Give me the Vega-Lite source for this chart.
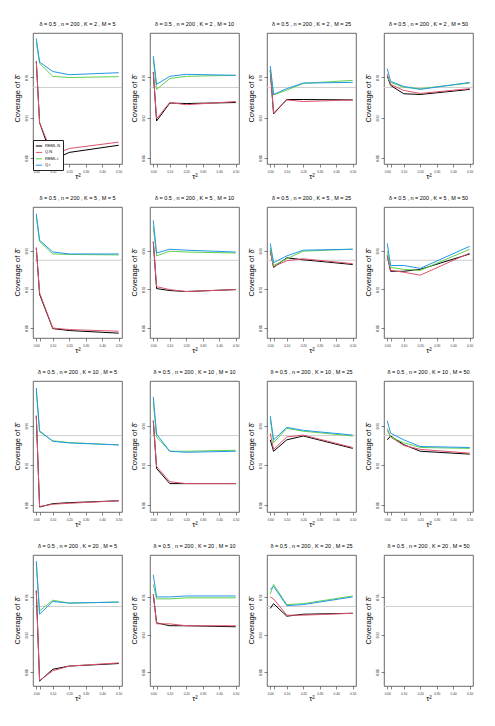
{
  "$schema": "https://vega.github.io/schema/vega-lite/v6.json",
  "autosize": {"type": "pad"},
  "padding": {"left": 12, "top": 21, "right": 0, "bottom": 0},
  "background": "white",
  "spacing": 15,
  "config": {
    "font": "Liberation Sans",
    "view": {"stroke": "#444444", "strokeWidth": 0.8},
    "axis": {"grid": false, "domain": false, "tickSize": 3, "tickColor": "#333333", "tickWidth": 0.6, "labelFontSize": 3.2, "labelColor": "#333333", "titleFontSize": 7.5, "titleFontWeight": "normal", "titleColor": "black"},
    "header": {"labelFontSize": 5.5, "labelColor": "black", "labelPadding": 6},
    "legend": {"symbolType": "stroke", "symbolSize": 40, "symbolStrokeWidth": 1, "labelFontSize": 4, "rowPadding": 0.4, "padding": 2, "strokeColor": "#222222", "fillColor": "white", "labelOffset": 2}
  },
  "datasets": {
    "cov": [
      {"K":2,"M":5,"method":"ref","tau2":0,"cov":0.95},
      {"K":2,"M":10,"method":"ref","tau2":0,"cov":0.95},
      {"K":2,"M":25,"method":"ref","tau2":0,"cov":0.95},
      {"K":2,"M":50,"method":"ref","tau2":0,"cov":0.95},
      {"K":5,"M":5,"method":"ref","tau2":0,"cov":0.95},
      {"K":5,"M":10,"method":"ref","tau2":0,"cov":0.95},
      {"K":5,"M":25,"method":"ref","tau2":0,"cov":0.95},
      {"K":5,"M":50,"method":"ref","tau2":0,"cov":0.95},
      {"K":10,"M":5,"method":"ref","tau2":0,"cov":0.95},
      {"K":10,"M":10,"method":"ref","tau2":0,"cov":0.95},
      {"K":10,"M":25,"method":"ref","tau2":0,"cov":0.95},
      {"K":10,"M":50,"method":"ref","tau2":0,"cov":0.95},
      {"K":20,"M":5,"method":"ref","tau2":0,"cov":0.95},
      {"K":20,"M":10,"method":"ref","tau2":0,"cov":0.95},
      {"K":20,"M":25,"method":"ref","tau2":0,"cov":0.95},
      {"K":20,"M":50,"method":"ref","tau2":0,"cov":0.95},

      {"K":2,"M":5,"method":"REML.N","tau2":0,"cov":0.976},
      {"K":2,"M":5,"method":"REML.N","tau2":0.02,"cov":0.915},
      {"K":2,"M":5,"method":"REML.N","tau2":0.1,"cov":0.878},
      {"K":2,"M":5,"method":"REML.N","tau2":0.2,"cov":0.8855},
      {"K":2,"M":5,"method":"REML.N","tau2":0.5,"cov":0.8926},
      {"K":2,"M":5,"method":"Q.N","tau2":0,"cov":0.9758},
      {"K":2,"M":5,"method":"Q.N","tau2":0.02,"cov":0.915},
      {"K":2,"M":5,"method":"Q.N","tau2":0.1,"cov":0.883},
      {"K":2,"M":5,"method":"Q.N","tau2":0.2,"cov":0.8894},
      {"K":2,"M":5,"method":"Q.N","tau2":0.5,"cov":0.8957},
      {"K":2,"M":5,"method":"REML.t","tau2":0,"cov":0.995},
      {"K":2,"M":5,"method":"REML.t","tau2":0.02,"cov":0.9738},
      {"K":2,"M":5,"method":"REML.t","tau2":0.1,"cov":0.961},
      {"K":2,"M":5,"method":"REML.t","tau2":0.2,"cov":0.9598},
      {"K":2,"M":5,"method":"REML.t","tau2":0.5,"cov":0.9607},
      {"K":2,"M":5,"method":"Q.t","tau2":0,"cov":0.9986},
      {"K":2,"M":5,"method":"Q.t","tau2":0.02,"cov":0.9752},
      {"K":2,"M":5,"method":"Q.t","tau2":0.1,"cov":0.9658},
      {"K":2,"M":5,"method":"Q.t","tau2":0.2,"cov":0.9626},
      {"K":2,"M":5,"method":"Q.t","tau2":0.5,"cov":0.9646},

      {"K":2,"M":10,"method":"REML.N","tau2":0,"cov":0.965},
      {"K":2,"M":10,"method":"REML.N","tau2":0.02,"cov":0.9167},
      {"K":2,"M":10,"method":"REML.N","tau2":0.1,"cov":0.9345},
      {"K":2,"M":10,"method":"REML.N","tau2":0.2,"cov":0.934},
      {"K":2,"M":10,"method":"REML.N","tau2":0.5,"cov":0.935},
      {"K":2,"M":10,"method":"Q.N","tau2":0,"cov":0.9649},
      {"K":2,"M":10,"method":"Q.N","tau2":0.02,"cov":0.919},
      {"K":2,"M":10,"method":"Q.N","tau2":0.1,"cov":0.935},
      {"K":2,"M":10,"method":"Q.N","tau2":0.2,"cov":0.9328},
      {"K":2,"M":10,"method":"Q.N","tau2":0.5,"cov":0.936},
      {"K":2,"M":10,"method":"REML.t","tau2":0,"cov":0.9777},
      {"K":2,"M":10,"method":"REML.t","tau2":0.02,"cov":0.948},
      {"K":2,"M":10,"method":"REML.t","tau2":0.1,"cov":0.9588},
      {"K":2,"M":10,"method":"REML.t","tau2":0.2,"cov":0.961},
      {"K":2,"M":10,"method":"REML.t","tau2":0.5,"cov":0.962},
      {"K":2,"M":10,"method":"Q.t","tau2":0,"cov":0.981},
      {"K":2,"M":10,"method":"Q.t","tau2":0.02,"cov":0.953},
      {"K":2,"M":10,"method":"Q.t","tau2":0.1,"cov":0.961},
      {"K":2,"M":10,"method":"Q.t","tau2":0.2,"cov":0.963},
      {"K":2,"M":10,"method":"Q.t","tau2":0.5,"cov":0.962},

      {"K":2,"M":25,"method":"REML.N","tau2":0,"cov":0.967},
      {"K":2,"M":25,"method":"REML.N","tau2":0.02,"cov":0.9237},
      {"K":2,"M":25,"method":"REML.N","tau2":0.1,"cov":0.938},
      {"K":2,"M":25,"method":"REML.N","tau2":0.2,"cov":0.938},
      {"K":2,"M":25,"method":"REML.N","tau2":0.5,"cov":0.9376},
      {"K":2,"M":25,"method":"Q.N","tau2":0,"cov":0.9665},
      {"K":2,"M":25,"method":"Q.N","tau2":0.02,"cov":0.9247},
      {"K":2,"M":25,"method":"Q.N","tau2":0.1,"cov":0.9376},
      {"K":2,"M":25,"method":"Q.N","tau2":0.2,"cov":0.936},
      {"K":2,"M":25,"method":"Q.N","tau2":0.5,"cov":0.9376},
      {"K":2,"M":25,"method":"REML.t","tau2":0,"cov":0.968},
      {"K":2,"M":25,"method":"REML.t","tau2":0.02,"cov":0.9425},
      {"K":2,"M":25,"method":"REML.t","tau2":0.1,"cov":0.9473},
      {"K":2,"M":25,"method":"REML.t","tau2":0.2,"cov":0.954},
      {"K":2,"M":25,"method":"REML.t","tau2":0.5,"cov":0.957},
      {"K":2,"M":25,"method":"Q.t","tau2":0,"cov":0.9713},
      {"K":2,"M":25,"method":"Q.t","tau2":0.02,"cov":0.943},
      {"K":2,"M":25,"method":"Q.t","tau2":0.1,"cov":0.9488},
      {"K":2,"M":25,"method":"Q.t","tau2":0.2,"cov":0.9543},
      {"K":2,"M":25,"method":"Q.t","tau2":0.5,"cov":0.955},

      {"K":2,"M":50,"method":"REML.N","tau2":0,"cov":0.961},
      {"K":2,"M":50,"method":"REML.N","tau2":0.02,"cov":0.952},
      {"K":2,"M":50,"method":"REML.N","tau2":0.1,"cov":0.9437},
      {"K":2,"M":50,"method":"REML.N","tau2":0.2,"cov":0.943},
      {"K":2,"M":50,"method":"REML.N","tau2":0.5,"cov":0.948},
      {"K":2,"M":50,"method":"Q.N","tau2":0,"cov":0.9632},
      {"K":2,"M":50,"method":"Q.N","tau2":0.02,"cov":0.953},
      {"K":2,"M":50,"method":"Q.N","tau2":0.1,"cov":0.947},
      {"K":2,"M":50,"method":"Q.N","tau2":0.2,"cov":0.944},
      {"K":2,"M":50,"method":"Q.N","tau2":0.5,"cov":0.9488},
      {"K":2,"M":50,"method":"REML.t","tau2":0,"cov":0.96},
      {"K":2,"M":50,"method":"REML.t","tau2":0.02,"cov":0.955},
      {"K":2,"M":50,"method":"REML.t","tau2":0.1,"cov":0.95},
      {"K":2,"M":50,"method":"REML.t","tau2":0.2,"cov":0.9488},
      {"K":2,"M":50,"method":"REML.t","tau2":0.5,"cov":0.9543},
      {"K":2,"M":50,"method":"Q.t","tau2":0,"cov":0.9687},
      {"K":2,"M":50,"method":"Q.t","tau2":0.02,"cov":0.956},
      {"K":2,"M":50,"method":"Q.t","tau2":0.1,"cov":0.951},
      {"K":2,"M":50,"method":"Q.t","tau2":0.2,"cov":0.948},
      {"K":2,"M":50,"method":"Q.t","tau2":0.5,"cov":0.955},

      {"K":5,"M":5,"method":"REML.N","tau2":0,"cov":0.963},
      {"K":5,"M":5,"method":"REML.N","tau2":0.02,"cov":0.9148},
      {"K":5,"M":5,"method":"REML.N","tau2":0.1,"cov":0.8794},
      {"K":5,"M":5,"method":"REML.N","tau2":0.2,"cov":0.8774},
      {"K":5,"M":5,"method":"REML.N","tau2":0.5,"cov":0.8747},
      {"K":5,"M":5,"method":"Q.N","tau2":0,"cov":0.9628},
      {"K":5,"M":5,"method":"Q.N","tau2":0.02,"cov":0.9164},
      {"K":5,"M":5,"method":"Q.N","tau2":0.1,"cov":0.88},
      {"K":5,"M":5,"method":"Q.N","tau2":0.2,"cov":0.8784},
      {"K":5,"M":5,"method":"Q.N","tau2":0.5,"cov":0.8767},
      {"K":5,"M":5,"method":"REML.t","tau2":0,"cov":0.995},
      {"K":5,"M":5,"method":"REML.t","tau2":0.02,"cov":0.9694},
      {"K":5,"M":5,"method":"REML.t","tau2":0.1,"cov":0.9565},
      {"K":5,"M":5,"method":"REML.t","tau2":0.2,"cov":0.956},
      {"K":5,"M":5,"method":"REML.t","tau2":0.5,"cov":0.9555},
      {"K":5,"M":5,"method":"Q.t","tau2":0,"cov":0.998},
      {"K":5,"M":5,"method":"Q.t","tau2":0.02,"cov":0.9707},
      {"K":5,"M":5,"method":"Q.t","tau2":0.1,"cov":0.9585},
      {"K":5,"M":5,"method":"Q.t","tau2":0.2,"cov":0.9565},
      {"K":5,"M":5,"method":"Q.t","tau2":0.5,"cov":0.9565},

      {"K":5,"M":10,"method":"REML.N","tau2":0,"cov":0.969},
      {"K":5,"M":10,"method":"REML.N","tau2":0.02,"cov":0.9207},
      {"K":5,"M":10,"method":"REML.N","tau2":0.1,"cov":0.9187},
      {"K":5,"M":10,"method":"REML.N","tau2":0.2,"cov":0.9177},
      {"K":5,"M":10,"method":"REML.N","tau2":0.5,"cov":0.9197},
      {"K":5,"M":10,"method":"Q.N","tau2":0,"cov":0.9694},
      {"K":5,"M":10,"method":"Q.N","tau2":0.02,"cov":0.9227},
      {"K":5,"M":10,"method":"Q.N","tau2":0.1,"cov":0.9197},
      {"K":5,"M":10,"method":"Q.N","tau2":0.2,"cov":0.9177},
      {"K":5,"M":10,"method":"Q.N","tau2":0.5,"cov":0.9197},
      {"K":5,"M":10,"method":"REML.t","tau2":0,"cov":0.985},
      {"K":5,"M":10,"method":"REML.t","tau2":0.02,"cov":0.9545},
      {"K":5,"M":10,"method":"REML.t","tau2":0.1,"cov":0.9594},
      {"K":5,"M":10,"method":"REML.t","tau2":0.2,"cov":0.9585},
      {"K":5,"M":10,"method":"REML.t","tau2":0.5,"cov":0.9575},
      {"K":5,"M":10,"method":"Q.t","tau2":0,"cov":0.9912},
      {"K":5,"M":10,"method":"Q.t","tau2":0.02,"cov":0.9575},
      {"K":5,"M":10,"method":"Q.t","tau2":0.1,"cov":0.9614},
      {"K":5,"M":10,"method":"Q.t","tau2":0.2,"cov":0.9604},
      {"K":5,"M":10,"method":"Q.t","tau2":0.5,"cov":0.9585},

      {"K":5,"M":25,"method":"REML.N","tau2":0,"cov":0.96},
      {"K":5,"M":25,"method":"REML.N","tau2":0.02,"cov":0.9426},
      {"K":5,"M":25,"method":"REML.N","tau2":0.1,"cov":0.9525},
      {"K":5,"M":25,"method":"REML.N","tau2":0.2,"cov":0.9505},
      {"K":5,"M":25,"method":"REML.N","tau2":0.5,"cov":0.9456},
      {"K":5,"M":25,"method":"Q.N","tau2":0,"cov":0.9594},
      {"K":5,"M":25,"method":"Q.N","tau2":0.02,"cov":0.9436},
      {"K":5,"M":25,"method":"Q.N","tau2":0.1,"cov":0.9495},
      {"K":5,"M":25,"method":"Q.N","tau2":0.2,"cov":0.9515},
      {"K":5,"M":25,"method":"Q.N","tau2":0.5,"cov":0.9465},
      {"K":5,"M":25,"method":"REML.t","tau2":0,"cov":0.963},
      {"K":5,"M":25,"method":"REML.t","tau2":0.02,"cov":0.9446},
      {"K":5,"M":25,"method":"REML.t","tau2":0.1,"cov":0.9515},
      {"K":5,"M":25,"method":"REML.t","tau2":0.2,"cov":0.9594},
      {"K":5,"M":25,"method":"REML.t","tau2":0.5,"cov":0.9614},
      {"K":5,"M":25,"method":"Q.t","tau2":0,"cov":0.9674},
      {"K":5,"M":25,"method":"Q.t","tau2":0.02,"cov":0.9475},
      {"K":5,"M":25,"method":"Q.t","tau2":0.1,"cov":0.9545},
      {"K":5,"M":25,"method":"Q.t","tau2":0.2,"cov":0.9604},
      {"K":5,"M":25,"method":"Q.t","tau2":0.5,"cov":0.9614},

      {"K":5,"M":50,"method":"REML.N","tau2":0,"cov":0.955},
      {"K":5,"M":50,"method":"REML.N","tau2":0.02,"cov":0.9386},
      {"K":5,"M":50,"method":"REML.N","tau2":0.1,"cov":0.9386},
      {"K":5,"M":50,"method":"REML.N","tau2":0.2,"cov":0.9406},
      {"K":5,"M":50,"method":"REML.N","tau2":0.5,"cov":0.9565},
      {"K":5,"M":50,"method":"Q.N","tau2":0,"cov":0.9545},
      {"K":5,"M":50,"method":"Q.N","tau2":0.02,"cov":0.9396},
      {"K":5,"M":50,"method":"Q.N","tau2":0.1,"cov":0.9376},
      {"K":5,"M":50,"method":"Q.N","tau2":0.2,"cov":0.9346},
      {"K":5,"M":50,"method":"Q.N","tau2":0.5,"cov":0.9575},
      {"K":5,"M":50,"method":"REML.t","tau2":0,"cov":0.9594},
      {"K":5,"M":50,"method":"REML.t","tau2":0.02,"cov":0.9426},
      {"K":5,"M":50,"method":"REML.t","tau2":0.1,"cov":0.9406},
      {"K":5,"M":50,"method":"REML.t","tau2":0.2,"cov":0.9396},
      {"K":5,"M":50,"method":"REML.t","tau2":0.5,"cov":0.9614},
      {"K":5,"M":50,"method":"Q.t","tau2":0,"cov":0.9674},
      {"K":5,"M":50,"method":"Q.t","tau2":0.02,"cov":0.9446},
      {"K":5,"M":50,"method":"Q.t","tau2":0.1,"cov":0.9446},
      {"K":5,"M":50,"method":"Q.t","tau2":0.2,"cov":0.9416},
      {"K":5,"M":50,"method":"Q.t","tau2":0.5,"cov":0.9644},

      {"K":10,"M":5,"method":"REML.N","tau2":0,"cov":0.97},
      {"K":10,"M":5,"method":"REML.N","tau2":0.02,"cov":0.878},
      {"K":10,"M":5,"method":"REML.N","tau2":0.1,"cov":0.8814},
      {"K":10,"M":5,"method":"REML.N","tau2":0.2,"cov":0.8824},
      {"K":10,"M":5,"method":"REML.N","tau2":0.5,"cov":0.8843},
      {"K":10,"M":5,"method":"Q.N","tau2":0,"cov":0.9698},
      {"K":10,"M":5,"method":"Q.N","tau2":0.02,"cov":0.8786},
      {"K":10,"M":5,"method":"Q.N","tau2":0.1,"cov":0.8808},
      {"K":10,"M":5,"method":"Q.N","tau2":0.2,"cov":0.8818},
      {"K":10,"M":5,"method":"Q.N","tau2":0.5,"cov":0.8843},
      {"K":10,"M":5,"method":"REML.t","tau2":0,"cov":0.995},
      {"K":10,"M":5,"method":"REML.t","tau2":0.02,"cov":0.9538},
      {"K":10,"M":5,"method":"REML.t","tau2":0.1,"cov":0.9448},
      {"K":10,"M":5,"method":"REML.t","tau2":0.2,"cov":0.9429},
      {"K":10,"M":5,"method":"REML.t","tau2":0.5,"cov":0.9406},
      {"K":10,"M":5,"method":"Q.t","tau2":0,"cov":0.998},
      {"K":10,"M":5,"method":"Q.t","tau2":0.02,"cov":0.9547},
      {"K":10,"M":5,"method":"Q.t","tau2":0.1,"cov":0.9442},
      {"K":10,"M":5,"method":"Q.t","tau2":0.2,"cov":0.9426},
      {"K":10,"M":5,"method":"Q.t","tau2":0.5,"cov":0.9406},

      {"K":10,"M":10,"method":"REML.N","tau2":0,"cov":0.965},
      {"K":10,"M":10,"method":"REML.N","tau2":0.02,"cov":0.9169},
      {"K":10,"M":10,"method":"REML.N","tau2":0.1,"cov":0.9016},
      {"K":10,"M":10,"method":"REML.N","tau2":0.2,"cov":0.9016},
      {"K":10,"M":10,"method":"REML.N","tau2":0.5,"cov":0.9016},
      {"K":10,"M":10,"method":"Q.N","tau2":0,"cov":0.965},
      {"K":10,"M":10,"method":"Q.N","tau2":0.02,"cov":0.9188},
      {"K":10,"M":10,"method":"Q.N","tau2":0.1,"cov":0.9035},
      {"K":10,"M":10,"method":"Q.N","tau2":0.2,"cov":0.9016},
      {"K":10,"M":10,"method":"Q.N","tau2":0.5,"cov":0.9016},
      {"K":10,"M":10,"method":"REML.t","tau2":0,"cov":0.984},
      {"K":10,"M":10,"method":"REML.t","tau2":0.02,"cov":0.9486},
      {"K":10,"M":10,"method":"REML.t","tau2":0.1,"cov":0.9342},
      {"K":10,"M":10,"method":"REML.t","tau2":0.2,"cov":0.9342},
      {"K":10,"M":10,"method":"REML.t","tau2":0.5,"cov":0.9352},
      {"K":10,"M":10,"method":"Q.t","tau2":0,"cov":0.989},
      {"K":10,"M":10,"method":"Q.t","tau2":0.02,"cov":0.9515},
      {"K":10,"M":10,"method":"Q.t","tau2":0.1,"cov":0.9342},
      {"K":10,"M":10,"method":"Q.t","tau2":0.2,"cov":0.9332},
      {"K":10,"M":10,"method":"Q.t","tau2":0.5,"cov":0.9342},

      {"K":10,"M":25,"method":"REML.N","tau2":0,"cov":0.9457},
      {"K":10,"M":25,"method":"REML.N","tau2":0.02,"cov":0.9342},
      {"K":10,"M":25,"method":"REML.N","tau2":0.1,"cov":0.9457},
      {"K":10,"M":25,"method":"REML.N","tau2":0.2,"cov":0.9496},
      {"K":10,"M":25,"method":"REML.N","tau2":0.5,"cov":0.9371},
      {"K":10,"M":25,"method":"Q.N","tau2":0,"cov":0.9524},
      {"K":10,"M":25,"method":"Q.N","tau2":0.02,"cov":0.9361},
      {"K":10,"M":25,"method":"Q.N","tau2":0.1,"cov":0.9486},
      {"K":10,"M":25,"method":"Q.N","tau2":0.2,"cov":0.9505},
      {"K":10,"M":25,"method":"Q.N","tau2":0.5,"cov":0.938},
      {"K":10,"M":25,"method":"REML.t","tau2":0,"cov":0.9668},
      {"K":10,"M":25,"method":"REML.t","tau2":0.02,"cov":0.9428},
      {"K":10,"M":25,"method":"REML.t","tau2":0.1,"cov":0.9572},
      {"K":10,"M":25,"method":"REML.t","tau2":0.2,"cov":0.9544},
      {"K":10,"M":25,"method":"REML.t","tau2":0.5,"cov":0.9496},
      {"K":10,"M":25,"method":"Q.t","tau2":0,"cov":0.9697},
      {"K":10,"M":25,"method":"Q.t","tau2":0.02,"cov":0.9457},
      {"K":10,"M":25,"method":"Q.t","tau2":0.1,"cov":0.9582},
      {"K":10,"M":25,"method":"Q.t","tau2":0.2,"cov":0.9553},
      {"K":10,"M":25,"method":"Q.t","tau2":0.5,"cov":0.9505},

      {"K":10,"M":50,"method":"REML.N","tau2":0,"cov":0.9457},
      {"K":10,"M":50,"method":"REML.N","tau2":0.02,"cov":0.9496},
      {"K":10,"M":50,"method":"REML.N","tau2":0.1,"cov":0.9409},
      {"K":10,"M":50,"method":"REML.N","tau2":0.2,"cov":0.9342},
      {"K":10,"M":50,"method":"REML.N","tau2":0.5,"cov":0.9313},
      {"K":10,"M":50,"method":"Q.N","tau2":0,"cov":0.9553},
      {"K":10,"M":50,"method":"Q.N","tau2":0.02,"cov":0.9486},
      {"K":10,"M":50,"method":"Q.N","tau2":0.1,"cov":0.94},
      {"K":10,"M":50,"method":"Q.N","tau2":0.2,"cov":0.9361},
      {"K":10,"M":50,"method":"Q.N","tau2":0.5,"cov":0.9323},
      {"K":10,"M":50,"method":"REML.t","tau2":0,"cov":0.9572},
      {"K":10,"M":50,"method":"REML.t","tau2":0.02,"cov":0.9486},
      {"K":10,"M":50,"method":"REML.t","tau2":0.1,"cov":0.9428},
      {"K":10,"M":50,"method":"REML.t","tau2":0.2,"cov":0.938},
      {"K":10,"M":50,"method":"REML.t","tau2":0.5,"cov":0.9371},
      {"K":10,"M":50,"method":"Q.t","tau2":0,"cov":0.9649},
      {"K":10,"M":50,"method":"Q.t","tau2":0.02,"cov":0.9524},
      {"K":10,"M":50,"method":"Q.t","tau2":0.1,"cov":0.9457},
      {"K":10,"M":50,"method":"Q.t","tau2":0.2,"cov":0.939},
      {"K":10,"M":50,"method":"Q.t","tau2":0.5,"cov":0.938},

      {"K":20,"M":5,"method":"REML.N","tau2":0,"cov":0.967},
      {"K":20,"M":5,"method":"REML.N","tau2":0.02,"cov":0.8702},
      {"K":20,"M":5,"method":"REML.N","tau2":0.1,"cov":0.8829},
      {"K":20,"M":5,"method":"REML.N","tau2":0.2,"cov":0.8863},
      {"K":20,"M":5,"method":"REML.N","tau2":0.5,"cov":0.889},
      {"K":20,"M":5,"method":"Q.N","tau2":0,"cov":0.9667},
      {"K":20,"M":5,"method":"Q.N","tau2":0.02,"cov":0.8709},
      {"K":20,"M":5,"method":"Q.N","tau2":0.1,"cov":0.8812},
      {"K":20,"M":5,"method":"Q.N","tau2":0.2,"cov":0.8863},
      {"K":20,"M":5,"method":"Q.N","tau2":0.5,"cov":0.8897},
      {"K":20,"M":5,"method":"REML.t","tau2":0,"cov":0.996},
      {"K":20,"M":5,"method":"REML.t","tau2":0.02,"cov":0.9451},
      {"K":20,"M":5,"method":"REML.t","tau2":0.1,"cov":0.9567},
      {"K":20,"M":5,"method":"REML.t","tau2":0.2,"cov":0.9536},
      {"K":20,"M":5,"method":"REML.t","tau2":0.5,"cov":0.9547},
      {"K":20,"M":5,"method":"Q.t","tau2":0,"cov":0.9985},
      {"K":20,"M":5,"method":"Q.t","tau2":0.02,"cov":0.9417},
      {"K":20,"M":5,"method":"Q.t","tau2":0.1,"cov":0.9553},
      {"K":20,"M":5,"method":"Q.t","tau2":0.2,"cov":0.9536},
      {"K":20,"M":5,"method":"Q.t","tau2":0.5,"cov":0.9547},

      {"K":20,"M":10,"method":"REML.N","tau2":0,"cov":0.963},
      {"K":20,"M":10,"method":"REML.N","tau2":0.02,"cov":0.9325},
      {"K":20,"M":10,"method":"REML.N","tau2":0.1,"cov":0.9294},
      {"K":20,"M":10,"method":"REML.N","tau2":0.2,"cov":0.9294},
      {"K":20,"M":10,"method":"REML.N","tau2":0.5,"cov":0.9283},
      {"K":20,"M":10,"method":"Q.N","tau2":0,"cov":0.9633},
      {"K":20,"M":10,"method":"Q.N","tau2":0.02,"cov":0.9314},
      {"K":20,"M":10,"method":"Q.N","tau2":0.1,"cov":0.9314},
      {"K":20,"M":10,"method":"Q.N","tau2":0.2,"cov":0.9294},
      {"K":20,"M":10,"method":"Q.N","tau2":0.5,"cov":0.9294},
      {"K":20,"M":10,"method":"REML.t","tau2":0,"cov":0.9735},
      {"K":20,"M":10,"method":"REML.t","tau2":0.02,"cov":0.9581},
      {"K":20,"M":10,"method":"REML.t","tau2":0.1,"cov":0.9581},
      {"K":20,"M":10,"method":"REML.t","tau2":0.2,"cov":0.9592},
      {"K":20,"M":10,"method":"REML.t","tau2":0.5,"cov":0.9592},
      {"K":20,"M":10,"method":"Q.t","tau2":0,"cov":0.9838},
      {"K":20,"M":10,"method":"Q.t","tau2":0.02,"cov":0.9602},
      {"K":20,"M":10,"method":"Q.t","tau2":0.1,"cov":0.9602},
      {"K":20,"M":10,"method":"Q.t","tau2":0.2,"cov":0.9612},
      {"K":20,"M":10,"method":"Q.t","tau2":0.5,"cov":0.9612},

      {"K":20,"M":25,"method":"REML.N","tau2":0,"cov":0.9479},
      {"K":20,"M":25,"method":"REML.N","tau2":0.02,"cov":0.953},
      {"K":20,"M":25,"method":"REML.N","tau2":0.1,"cov":0.9396},
      {"K":20,"M":25,"method":"REML.N","tau2":0.2,"cov":0.9417},
      {"K":20,"M":25,"method":"REML.N","tau2":0.5,"cov":0.9427},
      {"K":20,"M":25,"method":"Q.N","tau2":0,"cov":0.9602},
      {"K":20,"M":25,"method":"Q.N","tau2":0.02,"cov":0.9581},
      {"K":20,"M":25,"method":"Q.N","tau2":0.1,"cov":0.9407},
      {"K":20,"M":25,"method":"Q.N","tau2":0.2,"cov":0.9407},
      {"K":20,"M":25,"method":"Q.N","tau2":0.5,"cov":0.9427},
      {"K":20,"M":25,"method":"REML.t","tau2":0,"cov":0.9633},
      {"K":20,"M":25,"method":"REML.t","tau2":0.02,"cov":0.9736},
      {"K":20,"M":25,"method":"REML.t","tau2":0.1,"cov":0.952},
      {"K":20,"M":25,"method":"REML.t","tau2":0.2,"cov":0.953},
      {"K":20,"M":25,"method":"REML.t","tau2":0.5,"cov":0.9612},
      {"K":20,"M":25,"method":"Q.t","tau2":0,"cov":0.9684},
      {"K":20,"M":25,"method":"Q.t","tau2":0.02,"cov":0.9715},
      {"K":20,"M":25,"method":"Q.t","tau2":0.1,"cov":0.9509},
      {"K":20,"M":25,"method":"Q.t","tau2":0.2,"cov":0.952},
      {"K":20,"M":25,"method":"Q.t","tau2":0.5,"cov":0.9602}
    ]
  },
  "vconcat": [
    {
      "data": {"name": "cov"},
      "transform": [{"filter": "datum.K == 2"}],
      "bounds": "flush",
      "spacing": 28,
      "facet": {"column": {"field": "M", "type": "ordinal", "title": null, "header": {"labelExpr": "'δ = 0.5 , n = 200 , K = 2 , M = ' + datum.value"}}},
      "resolve": {"axis": {"y": "independent"}},
      "spec": {
        "width": 89, "height": 131,
        "layer": [
          {"transform": [{"filter": "datum.method == 'ref'"}], "mark": {"type": "rule", "color": "#cccccc", "strokeWidth": 1}, "encoding": {"y": {"field": "cov", "type": "quantitative"}}},
          {"transform": [{"filter": "datum.method != 'ref'"}], "mark": {"type": "line", "strokeWidth": 1}, "encoding": {
            "x": {"field": "tau2", "type": "quantitative", "title": "τ²", "scale": {"domain": [-0.02, 0.52], "nice": false, "zero": false}, "axis": {"values": [0, 0.02, 0.1, 0.2, 0.3, 0.4, 0.5], "format": ".2f", "labelExpr": "datum.value == 0.02 ? '' : datum.label", "labelPadding": 2, "titlePadding": 0}},
            "y": {"field": "cov", "type": "quantitative", "title": "Coverage of δ̂", "scale": {"domain": [0.874, 1.004], "nice": false, "zero": false}, "axis": {"values": [0.88, 0.9, 0.92, 0.94, 0.96, 0.98], "format": ".2f", "labelAngle": 270, "labelAlign": "center", "labelBaseline": "bottom", "labelPadding": 2, "titlePadding": 3}},
            "color": {"field": "method", "type": "nominal", "scale": {"domain": ["REML.N", "Q.N", "REML.t", "Q.t"], "range": ["#000000", "#DF536B", "#61D04F", "#2297E6"]}, "legend": {"orient": "none", "legendX": 0, "legendY": 107, "title": null}}
          }}
        ]
      }
    },
    {
      "data": {"name": "cov"},
      "transform": [{"filter": "datum.K == 5"}],
      "bounds": "flush",
      "spacing": 28,
      "facet": {"column": {"field": "M", "type": "ordinal", "title": null, "header": {"labelExpr": "'δ = 0.5 , n = 200 , K = 5 , M = ' + datum.value"}}},
      "resolve": {"axis": {"y": "independent"}},
      "spec": {
        "width": 89, "height": 131,
        "layer": [
          {"transform": [{"filter": "datum.method == 'ref'"}], "mark": {"type": "rule", "color": "#cccccc", "strokeWidth": 1}, "encoding": {"y": {"field": "cov", "type": "quantitative"}}},
          {"transform": [{"filter": "datum.method != 'ref'"}], "mark": {"type": "line", "strokeWidth": 1}, "encoding": {
            "x": {"field": "tau2", "type": "quantitative", "title": "τ²", "scale": {"domain": [-0.02, 0.52], "nice": false, "zero": false}, "axis": {"values": [0, 0.02, 0.1, 0.2, 0.3, 0.4, 0.5], "format": ".2f", "labelExpr": "datum.value == 0.02 ? '' : datum.label", "labelPadding": 2, "titlePadding": 0}},
            "y": {"field": "cov", "type": "quantitative", "title": "Coverage of δ̂", "scale": {"domain": [0.8697, 1.005], "nice": false, "zero": false}, "axis": {"values": [0.88, 0.9, 0.92, 0.94, 0.96, 0.98], "format": ".2f", "labelAngle": 270, "labelAlign": "center", "labelBaseline": "bottom", "labelPadding": 2, "titlePadding": 3}},
            "color": {"field": "method", "type": "nominal", "scale": {"domain": ["REML.N", "Q.N", "REML.t", "Q.t"], "range": ["#000000", "#DF536B", "#61D04F", "#2297E6"]}}
          }}
        ]
      }
    },
    {
      "data": {"name": "cov"},
      "transform": [{"filter": "datum.K == 10"}],
      "bounds": "flush",
      "spacing": 28,
      "facet": {"column": {"field": "M", "type": "ordinal", "title": null, "header": {"labelExpr": "'δ = 0.5 , n = 200 , K = 10 , M = ' + datum.value"}}},
      "resolve": {"axis": {"y": "independent"}},
      "spec": {
        "width": 89, "height": 131,
        "layer": [
          {"transform": [{"filter": "datum.method == 'ref'"}], "mark": {"type": "rule", "color": "#cccccc", "strokeWidth": 1}, "encoding": {"y": {"field": "cov", "type": "quantitative"}}},
          {"transform": [{"filter": "datum.method != 'ref'"}], "mark": {"type": "line", "strokeWidth": 1}, "encoding": {
            "x": {"field": "tau2", "type": "quantitative", "title": "τ²", "scale": {"domain": [-0.02, 0.52], "nice": false, "zero": false}, "axis": {"values": [0, 0.02, 0.1, 0.2, 0.3, 0.4, 0.5], "format": ".2f", "labelExpr": "datum.value == 0.02 ? '' : datum.label", "labelPadding": 2, "titlePadding": 0}},
            "y": {"field": "cov", "type": "quantitative", "title": "Coverage of δ̂", "scale": {"domain": [0.873, 1.005], "nice": false, "zero": false}, "axis": {"values": [0.88, 0.9, 0.92, 0.94, 0.96, 0.98], "format": ".2f", "labelAngle": 270, "labelAlign": "center", "labelBaseline": "bottom", "labelPadding": 2, "titlePadding": 3}},
            "color": {"field": "method", "type": "nominal", "scale": {"domain": ["REML.N", "Q.N", "REML.t", "Q.t"], "range": ["#000000", "#DF536B", "#61D04F", "#2297E6"]}}
          }}
        ]
      }
    },
    {
      "data": {"name": "cov"},
      "transform": [{"filter": "datum.K == 20"}],
      "bounds": "flush",
      "spacing": 28,
      "facet": {"column": {"field": "M", "type": "ordinal", "title": null, "header": {"labelExpr": "'δ = 0.5 , n = 200 , K = 20 , M = ' + datum.value"}}},
      "resolve": {"axis": {"y": "independent"}},
      "spec": {
        "width": 89, "height": 131,
        "layer": [
          {"transform": [{"filter": "datum.method == 'ref'"}], "mark": {"type": "rule", "color": "#cccccc", "strokeWidth": 1}, "encoding": {"y": {"field": "cov", "type": "quantitative"}}},
          {"transform": [{"filter": "datum.method != 'ref'"}], "mark": {"type": "line", "strokeWidth": 1}, "encoding": {
            "x": {"field": "tau2", "type": "quantitative", "title": "τ²", "scale": {"domain": [-0.02, 0.52], "nice": false, "zero": false}, "axis": {"values": [0, 0.02, 0.1, 0.2, 0.3, 0.4, 0.5], "format": ".2f", "labelExpr": "datum.value == 0.02 ? '' : datum.label", "labelPadding": 2, "titlePadding": 0}},
            "y": {"field": "cov", "type": "quantitative", "title": "Coverage of δ̂", "scale": {"domain": [0.865, 1.005], "nice": false, "zero": false}, "axis": {"values": [0.88, 0.9, 0.92, 0.94, 0.96, 0.98], "format": ".2f", "labelAngle": 270, "labelAlign": "center", "labelBaseline": "bottom", "labelPadding": 2, "titlePadding": 3}},
            "color": {"field": "method", "type": "nominal", "scale": {"domain": ["REML.N", "Q.N", "REML.t", "Q.t"], "range": ["#000000", "#DF536B", "#61D04F", "#2297E6"]}}
          }}
        ]
      }
    }
  ],
  "resolve": {"scale": {"y": "independent"}}
}
